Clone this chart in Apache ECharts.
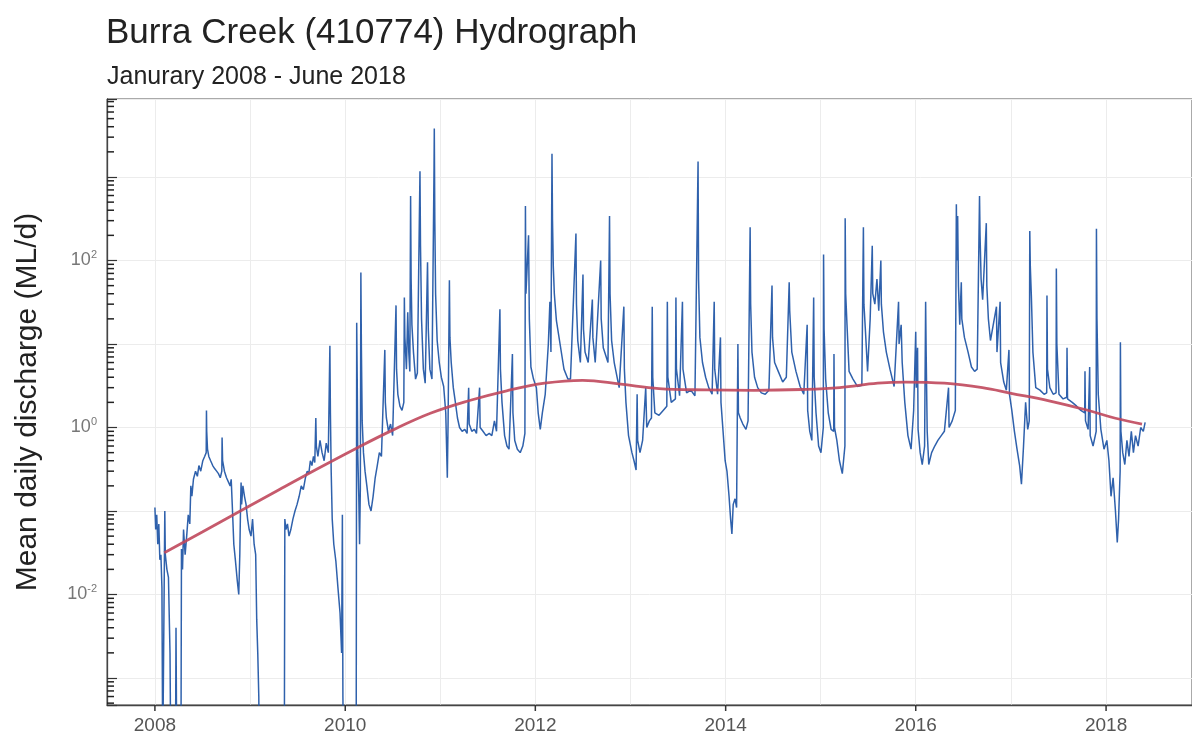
<!DOCTYPE html>
<html>
<head>
<meta charset="utf-8">
<script src="https://cdn.jsdelivr.net/npm/echarts@6/dist/echarts.min.js"></script>
<style>
html,body{margin:0;padding:0;background:#fff;}
#chart{width:1192px;height:742px;}
</style>
</head>
<body>
<div id="chart"></div>
<script>
// ---- Observed mean daily discharge (ML/d) (0.0001 = zero flow, below axis) ----
const flow2008 = [['2008-01-01',0.11],['2008-01-04',0.06],['2008-01-08',0.09],['2008-01-12',0.04],['2008-01-16',0.07],['2008-01-20',0.026],['2008-01-24',0.03],['2008-01-28',0.012],['2008-01-31',0.0001],['2008-02-06',0.0001],['2008-02-08',0.1],['2008-02-10',0.03],['2008-02-16',0.02],['2008-02-22',0.016],['2008-02-28',0.002],['2008-03-02',0.0001],['2008-03-20',0.0001],['2008-03-22',0.004],['2008-03-25',0.0001],['2008-04-10',0.0001],['2008-04-12',0.035],['2008-04-16',0.02],['2008-04-20',0.06],['2008-04-26',0.03],['2008-05-02',0.05],['2008-05-08',0.09],['2008-05-14',0.07],['2008-05-18',0.2],['2008-05-22',0.15],['2008-05-28',0.24],['2008-06-05',0.3],['2008-06-12',0.26],['2008-06-18',0.35],['2008-06-25',0.3],['2008-07-03',0.4],['2008-07-10',0.45],['2008-07-16',0.5],['2008-07-17',1.6],['2008-07-18',0.9],['2008-07-21',0.55],['2008-07-26',0.45],['2008-08-02',0.4],['2008-08-10',0.35],['2008-08-18',0.32],['2008-08-25',0.3],['2008-09-01',0.28],['2008-09-08',0.25],['2008-09-14',0.3],['2008-09-15',0.76],['2008-09-17',0.4],['2008-09-24',0.3],['2008-10-02',0.25],['2008-10-10',0.22],['2008-10-16',0.2],['2008-10-20',0.24],['2008-10-24',0.12],['2008-10-30',0.04],['2008-11-05',0.026],['2008-11-12',0.015],['2008-11-18',0.01],['2008-11-22',0.03],['2008-11-25',0.12],['2008-11-27',0.22],['2008-11-29',0.12],['2008-12-04',0.2],['2008-12-10',0.15],['2008-12-16',0.12],['2008-12-22',0.08],['2008-12-28',0.06]];
const flow2009 = [['2009-01-04',0.05],['2009-01-10',0.08],['2009-01-16',0.04],['2009-01-22',0.03],['2009-01-26',0.005],['2009-01-30',0.002],['2009-02-03',0.0006],['2009-02-05',0.0001],['2009-05-12',0.0001],['2009-05-14',0.08],['2009-05-18',0.06],['2009-05-24',0.07],['2009-05-30',0.05],['2009-06-06',0.06],['2009-06-14',0.08],['2009-06-22',0.1],['2009-06-30',0.12],['2009-07-08',0.15],['2009-07-16',0.2],['2009-07-24',0.18],['2009-08-01',0.25],['2009-08-08',0.3],['2009-08-14',0.28],['2009-08-20',0.4],['2009-08-26',0.35],['2009-09-01',0.45],['2009-09-06',0.38],['2009-09-10',1.3],['2009-09-12',0.6],['2009-09-18',0.45],['2009-09-26',0.7],['2009-10-04',0.5],['2009-10-12',0.4],['2009-10-20',0.65],['2009-10-28',0.5],['2009-11-03',9.5],['2009-11-05',1.5],['2009-11-08',0.3],['2009-11-12',0.08],['2009-11-18',0.04],['2009-11-26',0.025],['2009-12-04',0.012],['2009-12-12',0.006],['2009-12-18',0.002],['2009-12-21',0.09],['2009-12-23',0.0006],['2009-12-26',0.0001]];
const flow2010 = [['2010-01-01',0.0001],['2010-02-12',0.0001],['2010-02-14',18],['2010-02-16',3.8],['2010-02-18',0.5],['2010-02-22',0.15],['2010-02-25',0.04],['2010-02-28',0.19],['2010-03-02',72],['2010-03-04',9],['2010-03-07',1.2],['2010-03-12',0.5],['2010-03-18',0.3],['2010-03-25',0.2],['2010-04-02',0.12],['2010-04-10',0.1],['2010-04-18',0.15],['2010-04-26',0.25],['2010-05-04',0.35],['2010-05-12',0.5],['2010-05-20',0.45],['2010-06-02',8.5],['2010-06-04',2],['2010-06-08',1.3],['2010-06-16',0.9],['2010-06-24',1.1],['2010-07-02',0.8],['2010-07-15',29],['2010-07-17',5],['2010-07-22',2.5],['2010-07-30',1.8],['2010-08-07',1.6],['2010-08-14',2],['2010-08-16',36],['2010-08-18',12],['2010-08-24',5],['2010-08-29',24],['2010-09-02',8],['2010-09-06',4.7],['2010-09-09',590],['2010-09-11',60],['2010-09-14',17],['2010-09-20',8],['2010-09-28',3.8],['2010-10-05',4.5],['2010-10-15',1170],['2010-10-17',150],['2010-10-21',20],['2010-10-28',5],['2010-11-04',3.4],['2010-11-13',95],['2010-11-16',15],['2010-11-22',5],['2010-11-30',3.8],['2010-12-08',1300],['2010-12-09',3800],['2010-12-11',300],['2010-12-14',40],['2010-12-20',11],['2010-12-28',6]];
const flow2011 = [['2011-01-05',4],['2011-01-14',3.1],['2011-01-22',1.5],['2011-01-28',0.25],['2011-01-31',1.2],['2011-02-05',58],['2011-02-07',12],['2011-02-12',6],['2011-02-20',3],['2011-02-28',2],['2011-03-08',1.3],['2011-03-16',1.0],['2011-03-26',0.9],['2011-04-05',0.95],['2011-04-14',0.85],['2011-04-20',3],['2011-04-22',1.1],['2011-05-02',0.9],['2011-05-12',0.95],['2011-05-20',0.85],['2011-06-01',3],['2011-06-03',1.0],['2011-06-14',0.9],['2011-06-26',0.8],['2011-07-08',0.85],['2011-07-18',0.8],['2011-07-28',1.2],['2011-08-05',0.9],['2011-08-18',26],['2011-08-20',5],['2011-08-26',2],['2011-09-05',0.8],['2011-09-14',0.6],['2011-09-22',0.55],['2011-10-05',7.6],['2011-10-07',1.5],['2011-10-14',0.7],['2011-10-24',0.55],['2011-11-04',0.5],['2011-11-14',0.6],['2011-11-22',0.85],['2011-11-24',450],['2011-11-26',40],['2011-12-06',200],['2011-12-09',20],['2011-12-15',5.3],['2011-12-25',3.8]];
const flow2012 = [['2012-01-05',3],['2012-01-12',1.5],['2012-01-20',0.95],['2012-01-28',1.5],['2012-02-08',2.5],['2012-02-20',10],['2012-02-26',32],['2012-03-01',8],['2012-03-05',1900],['2012-03-07',300],['2012-03-10',85],['2012-03-14',40],['2012-03-22',19],['2012-04-05',10],['2012-04-20',5],['2012-05-05',3.8],['2012-05-15',3.8],['2012-06-05',210],['2012-06-07',30],['2012-06-12',11],['2012-06-22',6],['2012-07-02',68],['2012-07-04',15],['2012-07-10',8],['2012-07-22',6],['2012-08-07',34],['2012-08-09',12],['2012-08-18',6],['2012-09-08',100],['2012-09-10',20],['2012-09-18',9],['2012-10-06',6],['2012-10-12',340],['2012-10-14',40],['2012-10-20',11],['2012-10-30',6],['2012-11-10',4],['2012-11-18',3],['2012-12-06',28],['2012-12-08',5],['2012-12-14',2],['2012-12-24',0.8]];
const flow2013 = [['2013-01-06',0.5],['2013-01-14',0.4],['2013-01-22',0.31],['2013-01-26',2.5],['2013-01-28',0.7],['2013-02-06',0.5],['2013-02-16',0.7],['2013-02-28',3],['2013-03-04',1.0],['2013-03-14',1.2],['2013-03-22',1.3],['2013-03-25',28],['2013-03-27',4],['2013-04-04',1.5],['2013-04-20',1.4],['2013-05-06',1.6],['2013-05-20',1.8],['2013-05-22',32],['2013-05-24',4],['2013-06-06',2],['2013-06-22',2.2],['2013-06-24',36],['2013-06-26',5],['2013-07-08',2.4],['2013-07-19',32],['2013-07-21',5],['2013-08-04',2.6],['2013-08-20',2.8],['2013-09-05',2.4],['2013-09-17',1530],['2013-09-19',60],['2013-09-24',12],['2013-10-04',6],['2013-10-16',4],['2013-10-28',3],['2013-11-10',2.5],['2013-11-18',32],['2013-11-20',5],['2013-12-01',2.5],['2013-12-12',12],['2013-12-14',2],['2013-12-22',0.9],['2013-12-30',0.4]];
const flow2014 = [['2014-01-06',0.3],['2014-01-14',0.15],['2014-01-20',0.08],['2014-01-25',0.053],['2014-01-30',0.12],['2014-02-06',0.14],['2014-02-12',0.11],['2014-02-17',10],['2014-02-19',1.5],['2014-02-26',1.3],['2014-03-08',1.1],['2014-03-20',0.95],['2014-03-28',1.2],['2014-04-05',250],['2014-04-07',30],['2014-04-12',8],['2014-04-22',4],['2014-05-04',3],['2014-05-18',2.6],['2014-06-02',2.5],['2014-06-16',2.8],['2014-06-28',50],['2014-06-30',12],['2014-07-08',6],['2014-07-22',4.7],['2014-08-08',3.5],['2014-08-22',4],['2014-09-02',55],['2014-09-04',25],['2014-09-12',8],['2014-09-28',4.7],['2014-10-14',3.1],['2014-10-28',2.5],['2014-11-10',17],['2014-11-12',1.6],['2014-11-20',0.9],['2014-11-28',0.7],['2014-12-05',36],['2014-12-07',4],['2014-12-14',1.5],['2014-12-24',0.6]];
const flow2015 = [['2015-01-02',0.5],['2015-01-11',1],['2015-01-12',118],['2015-01-14',15],['2015-01-20',3.8],['2015-01-30',1.5],['2015-02-10',0.95],['2015-02-20',0.9],['2015-02-21',7.6],['2015-02-23',1],['2015-03-04',0.7],['2015-03-14',0.4],['2015-03-25',0.28],['2015-04-04',0.6],['2015-04-05',320],['2015-04-07',40],['2015-04-12',17],['2015-04-20',4.7],['2015-05-05',3.8],['2015-05-22',3.1],['2015-06-08',3.2],['2015-06-14',250],['2015-06-16',30],['2015-06-22',14],['2015-06-30',4.7],['2015-07-10',20],['2015-07-18',150],['2015-07-20',40],['2015-07-28',30],['2015-08-05',60],['2015-08-12',25],['2015-08-20',100],['2015-08-22',30],['2015-08-30',14],['2015-09-10',8],['2015-09-24',5],['2015-10-10',3.1],['2015-10-27',32],['2015-10-29',10],['2015-11-06',17],['2015-11-10',6],['2015-11-20',2],['2015-12-02',0.8],['2015-12-14',0.55],['2015-12-24',1.6]];
const flow2016 = [['2016-01-01',14],['2016-01-03',3],['2016-01-08',9],['2016-01-10',0.95],['2016-01-18',0.5],['2016-01-26',0.36],['2016-02-04',0.6],['2016-02-08',32],['2016-02-10',8],['2016-02-14',0.9],['2016-02-20',0.36],['2016-03-02',0.5],['2016-03-14',0.6],['2016-03-26',0.7],['2016-04-08',0.8],['2016-04-20',0.9],['2016-05-06',3],['2016-05-08',1],['2016-05-20',1.2],['2016-06-01',1.6],['2016-06-05',470],['2016-06-07',100],['2016-06-10',340],['2016-06-13',50],['2016-06-18',17],['2016-06-24',55],['2016-06-26',20],['2016-07-06',12],['2016-07-20',8],['2016-08-02',5.3],['2016-08-14',4.7],['2016-08-24',5],['2016-09-02',590],['2016-09-04',200],['2016-09-08',60],['2016-09-14',34],['2016-09-28',280],['2016-09-30',50],['2016-10-06',20],['2016-10-14',11],['2016-11-06',28],['2016-11-08',8],['2016-11-20',32],['2016-11-22',6],['2016-12-04',3.5],['2016-12-14',2.8],['2016-12-24',8.5],['2016-12-26',2.5]];
const flow2017 = [['2017-01-04',1.6],['2017-01-14',0.9],['2017-01-24',0.55],['2017-02-03',0.35],['2017-02-10',0.21],['2017-02-18',0.6],['2017-02-26',2],['2017-03-06',0.95],['2017-03-12',1.2],['2017-03-14',225],['2017-03-16',85],['2017-03-20',38],['2017-03-26',8],['2017-04-06',3],['2017-04-22',2.8],['2017-05-08',2.5],['2017-05-18',2.6],['2017-05-19',38],['2017-05-21',5],['2017-05-30',3],['2017-06-12',2.5],['2017-06-23',2.6],['2017-06-24',80],['2017-06-26',10],['2017-07-04',2.5],['2017-07-20',2.2],['2017-08-03',2.3],['2017-08-04',9],['2017-08-06',2.2],['2017-08-24',2],['2017-09-10',1.8],['2017-09-26',1.6],['2017-10-11',1.5],['2017-10-12',4.7],['2017-10-14',1.2],['2017-10-24',0.95],['2017-10-30',5.3],['2017-11-01',0.8],['2017-11-12',0.6],['2017-11-24',0.9],['2017-11-25',240],['2017-11-27',20],['2017-12-02',2.5],['2017-12-12',0.95],['2017-12-24',0.55]];
const flow2018 = [['2018-01-04',0.7],['2018-01-12',0.4],['2018-01-20',0.15],['2018-01-28',0.25],['2018-02-06',0.1],['2018-02-13',0.042],['2018-02-18',0.08],['2018-02-24',0.3],['2018-02-25',10.5],['2018-02-27',0.9],['2018-03-06',0.5],['2018-03-14',0.36],['2018-03-22',0.7],['2018-03-30',0.45],['2018-04-08',0.9],['2018-04-16',0.5],['2018-04-24',0.8],['2018-05-04',0.6],['2018-05-14',1.0],['2018-05-24',0.9],['2018-05-31',1.15]];

// ---- Smoothed trend (ML/d) ----
const trendDates = ['2008-02-06','2008-07-01','2008-11-24','2009-04-20','2009-09-13','2010-02-06','2010-07-02','2010-11-24','2011-04-20','2011-09-13','2012-02-06','2012-07-01','2012-11-24','2013-04-20','2013-10-19','2014-04-20','2014-10-19','2015-03-15','2015-08-08','2015-11-24','2016-04-20','2016-09-13','2017-01-01','2017-05-27','2017-10-19','2018-02-06','2018-05-19'];
const trendFlow = [0.0316,0.056,0.10,0.178,0.316,0.55,0.93,1.48,2.09,2.75,3.39,3.67,3.3,2.92,2.82,2.79,2.85,3.0,3.39,3.5,3.39,3.0,2.57,2.09,1.62,1.29,1.1];

// ---- Axis settings ----
const xMin = new Date(2007, 6, 1).getTime();
const xMax = new Date(2018, 10, 27).getTime();
const yMin = 0.000475;
const yMax = 8590;
const labelledExponents = [-2, 0, 2];
const labelledYears = [2008, 2010, 2012, 2014, 2016, 2018];
const minorTickSteps = [2, 3, 4, 5, 6, 7, 8, 9];
const tickDecades = [-4, -3, -2, -1, 0, 1, 2, 3];

const observed = [].concat(flow2008, flow2009, flow2010, flow2011, flow2012, flow2013,
  flow2014, flow2015, flow2016, flow2017, flow2018);
const trend = trendDates.map((d, i) => [d, trendFlow[i]]);

// positions of the log-axis minor ticks (axis decoration, placed through the axis scale)
const minorTickData = [];
tickDecades.forEach(function (dec) {
  minorTickSteps.forEach(function (m) {
    const v = m * Math.pow(10, dec);
    if (v > yMin && v < yMax) minorTickData.push([xMin, v]);
  });
});
const yearTickData = labelledYears.map(function (yr) { return [new Date(yr, 0, 1).getTime(), yMin]; });

const chart = echarts.init(document.getElementById('chart'), null, {renderer: 'canvas'});
const FONT = 'Liberation Sans, Arial, sans-serif';

chart.setOption({
  animation: false,
  backgroundColor: '#ffffff',
  title: [
    {text: 'Burra Creek (410774) Hydrograph', left: 106, top: 16, padding: 0,
     textStyle: {fontFamily: FONT, fontSize: 35, fontWeight: 'normal', color: '#222'}},
    {text: 'Janurary 2008 - June 2018', left: 107, top: 65, padding: 0,
     textStyle: {fontFamily: FONT, fontSize: 25, fontWeight: 'normal', color: '#222'}}
  ],
  grid: {left: 107, right: -2, top: 99, bottom: 37, show: true, borderColor: '#555', borderWidth: 1, backgroundColor: '#fff'},
  xAxis: {
    type: 'time', min: xMin, max: xMax, splitNumber: 11,
    minInterval: 365 * 24 * 3600 * 1000, maxInterval: 366 * 24 * 3600 * 1000,
    axisLine: {lineStyle: {color: '#444', width: 1.3}},
    axisTick: {show: false},
    axisLabel: {
      fontFamily: FONT, fontSize: 19, color: '#555', margin: 11,
      showMinLabel: false, showMaxLabel: false, hideOverlap: false,
      formatter: function (v) {
        const d = new Date(v);
        return (d.getMonth() === 0 && d.getDate() === 1 && labelledYears.indexOf(d.getFullYear()) >= 0) ? String(d.getFullYear()) : '';
      }
    },
    splitLine: {show: true, lineStyle: {color: '#ececec', width: 1}}
  },
  yAxis: {
    type: 'log', logBase: 10, min: yMin, max: yMax, splitNumber: 8,
    name: 'Mean daily discharge (ML/d)', nameLocation: 'middle', nameGap: 64,
    nameTextStyle: {fontFamily: FONT, fontSize: 30, color: '#222'},
    axisLine: {show: true, lineStyle: {color: '#444', width: 1.3}},
    axisTick: {show: true, inside: true, length: 10, lineStyle: {color: '#333', width: 1.2}},
    axisLabel: {
      margin: 10, color: '#666',
      formatter: function (v) {
        const l = Math.log10(v);
        const e = Math.round(l);
        if (Math.abs(l - e) > 1e-6 || labelledExponents.indexOf(e) < 0) return '';
        return '{b|10}{s|' + e + '}';
      },
      rich: {
        b: {fontFamily: FONT, fontSize: 18, color: '#777', lineHeight: 22},
        s: {fontFamily: FONT, fontSize: 11, color: '#777', verticalAlign: 'top', lineHeight: 12}
      }
    },
    splitLine: {show: true, lineStyle: {color: '#ececec', width: 1}}
  },
  series: [
    {
      name: 'Observed', type: 'line', data: observed, showSymbol: false, symbol: 'none',
      lineStyle: {color: '#2458a8', width: 1.5, opacity: 0.95}, itemStyle: {color: '#2458a8'}, z: 2
    },
    {
      name: 'Trend', type: 'line', data: trend, smooth: 0.4, showSymbol: false, symbol: 'none',
      lineStyle: {color: '#c0485c', width: 2.8, opacity: 0.9}, itemStyle: {color: '#c0485c'}, z: 3
    },
    {
      name: 'minor y ticks', type: 'scatter', data: minorTickData, silent: true, z: 10, clip: false,
      symbol: 'rect', symbolSize: [7, 1.5], symbolOffset: [3.5, 0],
      itemStyle: {color: '#222', opacity: 1}
    },
    {
      name: 'x ticks', type: 'scatter', data: yearTickData, silent: true, z: 10, clip: false,
      symbol: 'rect', symbolSize: [1.5, 6], symbolOffset: [0, 3],
      itemStyle: {color: '#333', opacity: 1}
    }
  ]
});
</script>
</body>
</html>
